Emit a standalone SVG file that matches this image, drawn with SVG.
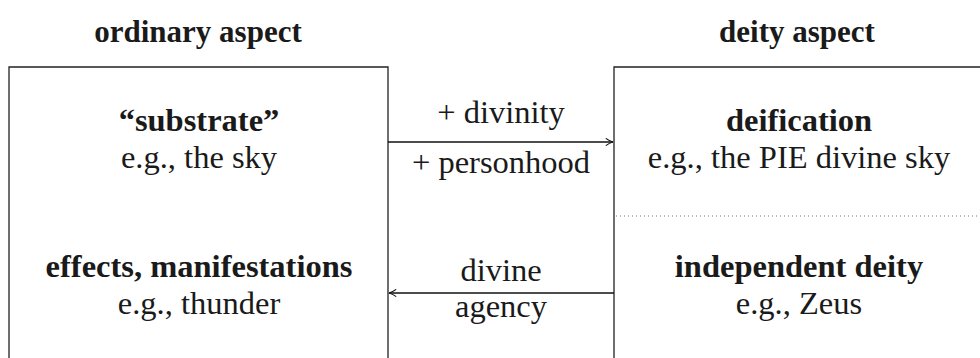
<svg xmlns="http://www.w3.org/2000/svg" width="980" height="358" viewBox="0 0 980 358">
  <style>
    text { font-family: "Liberation Serif", "DejaVu Serif", serif; font-size: 32.5px; fill: #1a1a1a; text-anchor: middle; }
    .b { font-weight: bold; }
    .h { font-size: 31px; }
    .box { fill: none; stroke: #222; stroke-width: 1.3; }
    .arrow { fill: none; stroke: #111; stroke-width: 1.6; }
    .sep { stroke: #777; stroke-width: 1; stroke-dasharray: 1 3; }
  </style>
  <defs>
    <marker id="head" viewBox="0 0 10 10" refX="9" refY="5" markerWidth="9" markerHeight="9" markerUnits="userSpaceOnUse" orient="auto">
      <path d="M1,1 Q5,4 9,5 Q5,6 1,9" fill="none" stroke="#111" stroke-width="1.3"/>
    </marker>
  </defs>

  <!-- column headings -->
  <text class="b h" x="198" y="42">ordinary aspect</text>
  <text class="b h" x="797" y="42">deity aspect</text>

  <!-- left column: ordinary aspect -->
  <g id="ordinary">
    <path class="box" d="M9,360 V67 H388 V360"/>
    <g id="substrate">
      <text class="b" x="199" y="131">“substrate”</text>
      <text x="199" y="168">e.g., the sky</text>
    </g>
    <g id="effects">
      <text class="b" x="199" y="277">effects, manifestations</text>
      <text x="199" y="314">e.g., thunder</text>
    </g>
  </g>

  <!-- right column: deity aspect -->
  <g id="deity">
    <path class="box" d="M614,360 V67 H995"/>
    <line class="sep" x1="616" y1="216" x2="980" y2="216"/>
    <g id="deification">
      <text class="b" x="799" y="131">deification</text>
      <text x="799" y="168">e.g., the PIE divine sky</text>
    </g>
    <g id="independent">
      <text class="b" x="799" y="277">independent deity</text>
      <text x="799" y="314">e.g., Zeus</text>
    </g>
  </g>

  <!-- connectors -->
  <g id="connectors">
    <line class="arrow" x1="388" y1="142" x2="613" y2="142" marker-end="url(#head)"/>
    <text x="501" y="123">+ divinity</text>
    <text x="501" y="173">+ personhood</text>
    <line class="arrow" x1="614" y1="293" x2="389" y2="293" marker-end="url(#head)"/>
    <text x="501" y="281">divine</text>
    <text x="501" y="317">agency</text>
  </g>
</svg>
